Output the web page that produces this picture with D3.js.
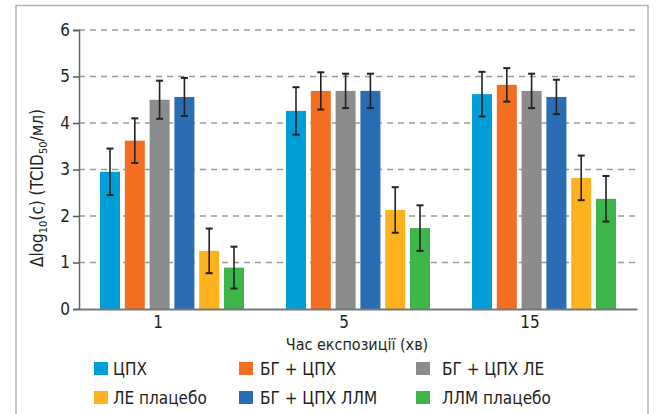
<!DOCTYPE html>
<html>
<head>
<meta charset="utf-8">
<script src="https://cdn.jsdelivr.net/npm/d3@7"></script>
<style>
  html, body { margin: 0; padding: 0; background: #fff; }
  svg { display: block; }
  text { font-family: "Liberation Sans Narrow", "DejaVu Sans Condensed", "Noto Sans", sans-serif; fill: #231f20; }
</style>
</head>
<body>
<svg id="chart" width="657" height="414"></svg>
<script>
// Exposure time groups (minutes)
const groups = ["1", "5", "15"];
// Treatment series
const series = ["ЦПХ", "БГ + ЦПХ", "БГ + ЦПХ ЛЕ", "БГ + ЦПХ ЛЛМ", "ЛЕ плацебо", "ЛЛМ плацебо"];
const colors = ["#009ed8", "#f26f21", "#8b8c8e", "#2a6db5", "#fdb21e", "#3db54a"];
// Mean Δlog10 reduction per series, one value per group
const means = [
  [2.95, 4.26, 4.62],
  [3.62, 4.69, 4.82],
  [4.50, 4.69, 4.69],
  [4.56, 4.69, 4.56],
  [1.25, 2.13, 2.82],
  [0.89, 1.74, 2.37]
];
// Standard deviations (error bar half-lengths)
const errs = [
  [0.50, 0.51, 0.48],
  [0.48, 0.40, 0.36],
  [0.41, 0.37, 0.37],
  [0.41, 0.37, 0.37],
  [0.48, 0.49, 0.48],
  [0.45, 0.49, 0.49]
];
const yTicks = [0, 1, 2, 3, 4, 5, 6];

const svg = d3.select("#chart");

// outer frame (no bottom edge)
svg.append("path")
  .attr("d", "M16,414 V5.5 H648 V414")
  .attr("fill", "none").attr("stroke", "#b3b3b3").attr("stroke-width", 1.5);

const plotLeft = 79, plotRight = 637, plotTop = 30, plotBottom = 309;

const y = d3.scaleLinear().domain([0, 6]).range([plotBottom, plotTop]);
const x0 = d3.scaleBand().domain(groups).range([plotLeft, plotRight])
  .paddingInner(0.2258).paddingOuter(0.1129);
const x1 = d3.scaleBand().domain(series).range([0, x0.bandwidth()])
  .paddingInner(0.1935).paddingOuter(0);

// dashed grid
svg.append("g").selectAll("line")
  .data(yTicks.filter(d => d > 0))
  .join("line")
  .attr("x1", plotLeft).attr("x2", plotRight)
  .attr("y1", d => y(d)).attr("y2", d => y(d))
  .attr("stroke", "#9a9a9a").attr("stroke-width", 1.3)
  .attr("stroke-dasharray", "6,5");

// bars
const data = [];
groups.forEach((g, gi) => series.forEach((s, si) => {
  data.push({ g, s, si, v: means[si][gi], e: errs[si][gi] });
}));

const barG = svg.append("g");
barG.selectAll("rect").data(data).join("rect")
  .attr("x", d => x0(d.g) + x1(d.s))
  .attr("width", x1.bandwidth())
  .attr("y", d => y(d.v))
  .attr("height", d => y(0) - y(d.v))
  .attr("fill", d => colors[d.si]);

// error bars
const eg = svg.append("g").attr("stroke", "#222").attr("stroke-width", 1.6);
data.forEach(d => {
  const cx = x0(d.g) + x1(d.s) + x1.bandwidth() / 2;
  const y1 = y(d.v + d.e), y2 = y(d.v - d.e);
  eg.append("line").attr("x1", cx).attr("x2", cx).attr("y1", y1).attr("y2", y2);
  eg.append("line").attr("x1", cx - 3.5).attr("x2", cx + 3.5).attr("y1", y1).attr("y2", y1).attr("stroke-width", 2);
  eg.append("line").attr("x1", cx - 3.5).attr("x2", cx + 3.5).attr("y1", y2).attr("y2", y2).attr("stroke-width", 2);
});

// y axis
const yAxis = svg.append("g").attr("transform", `translate(${plotLeft},0)`)
  .call(d3.axisLeft(y).tickValues(yTicks).tickSize(6).tickPadding(3).tickFormat(d3.format("d")));
yAxis.select(".domain").attr("stroke", "#666").attr("stroke-width", 1.5);
yAxis.selectAll(".tick line").attr("stroke", "#555").attr("stroke-width", 1.5);
yAxis.selectAll(".tick text").attr("font-size", 17).attr("fill", "#231f20");

// x axis
const xAxis = svg.append("g").attr("transform", `translate(0,${plotBottom})`)
  .call(d3.axisBottom(x0).tickSize(0).tickPadding(7).tickSizeOuter(0));
xAxis.select(".domain").attr("stroke", "#777").attr("stroke-width", 2);
xAxis.selectAll(".tick text").attr("font-size", 17).attr("dx", -14).attr("fill", "#231f20");

// axis titles
svg.append("text")
  .attr("x", 357).attr("y", 350)
  .attr("text-anchor", "middle").attr("font-size", 16)
  .text("Час експозиції (хв)");

const yt = svg.append("text")
  .attr("transform", "translate(43,188) rotate(-90)")
  .attr("text-anchor", "middle").attr("font-size", 17);
yt.append("tspan").text("Δlog");
yt.append("tspan").attr("font-size", 11).attr("dy", 4).text("10");
yt.append("tspan").attr("dy", -4).text("(c) (TCID");
yt.append("tspan").attr("font-size", 11).attr("dy", 4).text("50");
yt.append("tspan").attr("dy", -4).text("/мл)");

// legend: three columns, two rows
const legCols = [94, 239, 416];
const legTextX = [113, 260, 442];
const legRows = [362, 391];
const order = [[0, 1, 2], [4, 3, 5]];
const leg = svg.append("g");
order.forEach((row, ri) => row.forEach((si, ci) => {
  leg.append("rect")
    .attr("x", legCols[ci]).attr("y", legRows[ri])
    .attr("width", 14).attr("height", 13)
    .attr("fill", colors[si]);
  leg.append("text")
    .attr("x", legTextX[ci]).attr("y", legRows[ri] + 13)
    .attr("font-size", 17)
    .text(series[si]);
}));
</script>
</body>
</html>
